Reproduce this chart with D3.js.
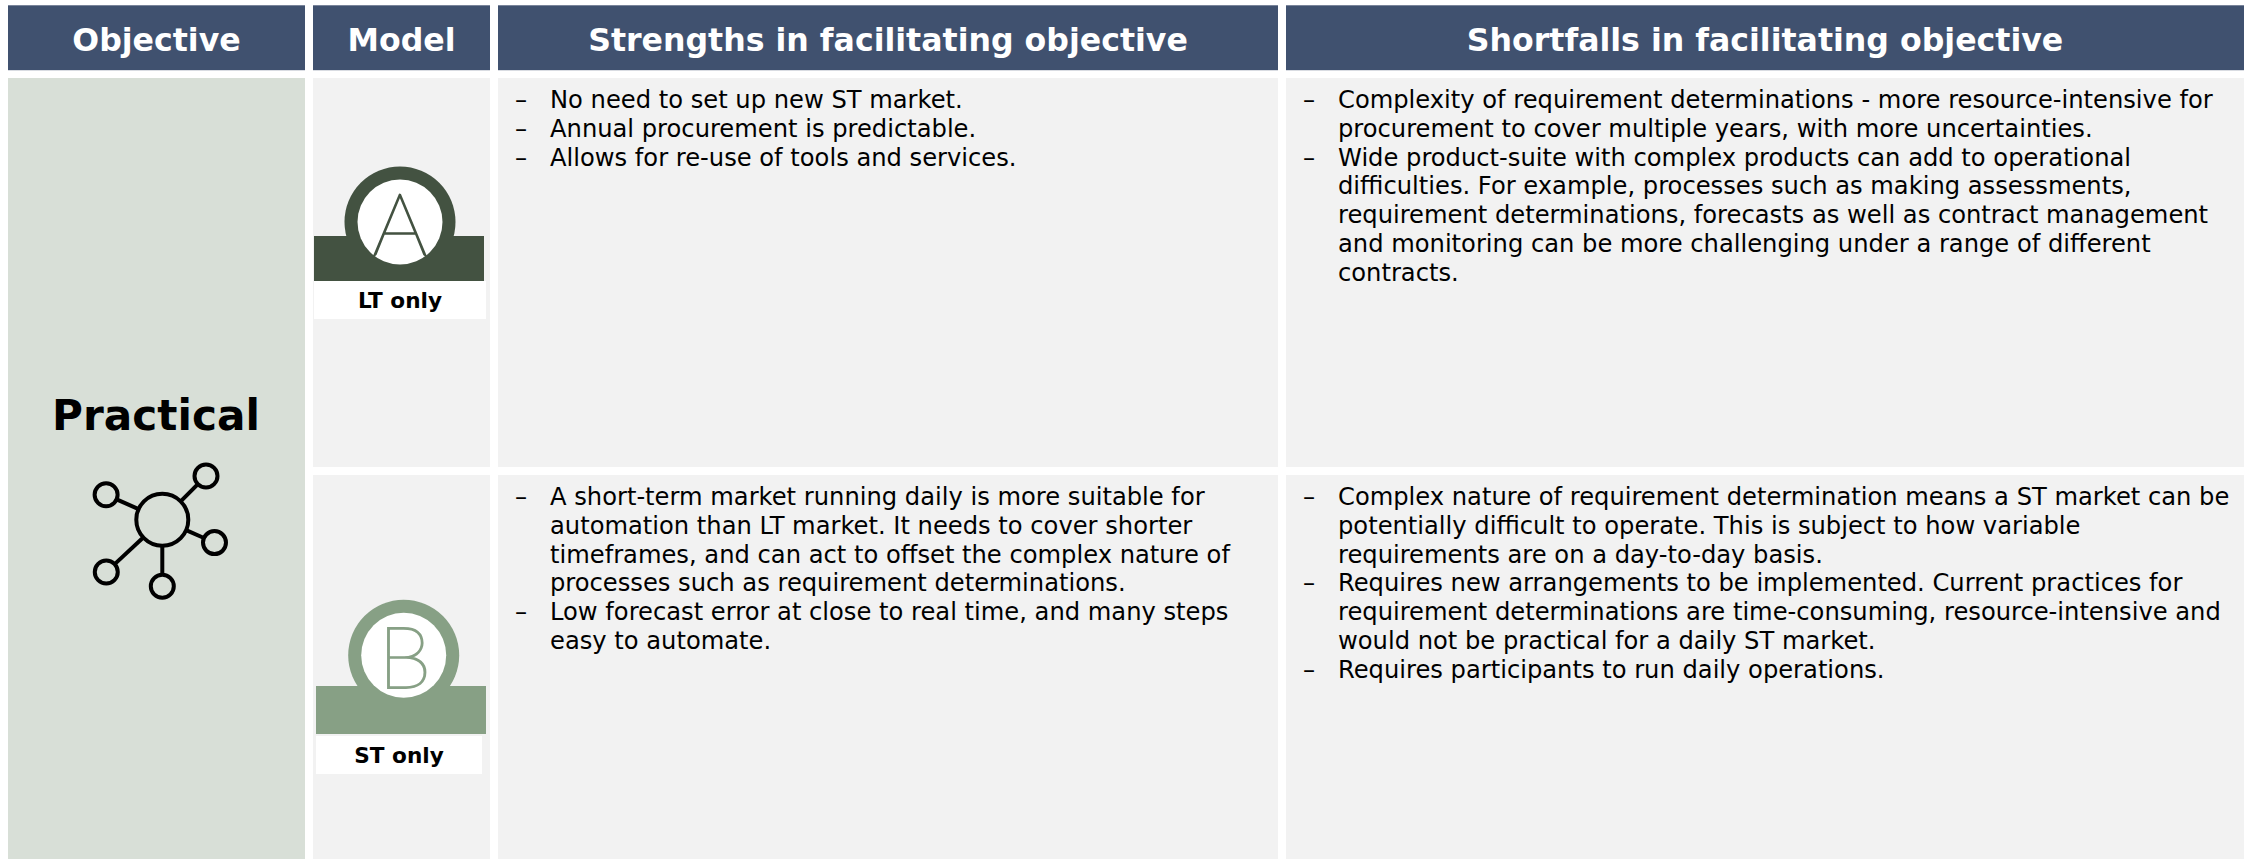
<!DOCTYPE html>
<html>
<head>
<meta charset="utf-8">
<script src="https://cdn.jsdelivr.net/npm/d3@7"></script>
<style>
  html, body { margin: 0; padding: 0; background: #fff; }
  svg { display: block; }
  text { font-family: "DejaVu Sans", sans-serif; }
</style>
</head>
<body>
<svg id="chart" width="2250" height="859"></svg>
<script>
var columns = ['Objective', 'Model', 'Strengths in facilitating objective', 'Shortfalls in facilitating objective'];
var columnEdges = [8, 313, 498, 1286, 2244];
var gap = 8;

var rowNames = ['LT only', 'ST only'];
var rowEdges = [78, 475, 867];

var objective = 'Practical';

var modelLetters = ['A', 'B'];
var modelColors = ['#435241', '#87A085'];

var strengths = [
  [
    ['No need to set up new ST market.'],
    ['Annual procurement is predictable.'],
    ['Allows for re-use of tools and services.']
  ],
  [
    ['A short-term market running daily is more suitable for',
     'automation than LT market. It needs to cover shorter',
     'timeframes, and can act to offset the complex nature of',
     'processes such as requirement determinations.'],
    ['Low forecast error at close to real time, and many steps',
     'easy to automate.']
  ]
];

var shortfalls = [
  [
    ['Complexity of requirement determinations - more resource-intensive for',
     'procurement to cover multiple years, with more uncertainties.'],
    ['Wide product-suite with complex products can add to operational',
     'difficulties. For example, processes such as making assessments,',
     'requirement determinations, forecasts as well as contract management',
     'and monitoring can be more challenging under a range of different',
     'contracts.']
  ],
  [
    ['Complex nature of requirement determination means a ST market can be',
     'potentially difficult to operate. This is subject to how variable',
     'requirements are on a day-to-day basis.'],
    ['Requires new arrangements to be implemented. Current practices for',
     'requirement determinations are time-consuming, resource-intensive and',
     'would not be practical for a daily ST market.'],
    ['Requires participants to run daily operations.']
  ]
];

// hub and spoke icon, angle in degrees clockwise from east
var spokeAngles = [-45, -156, 23.7, 137, 90];
var spokeLengths = [61.8, 61.5, 57, 76.6, 66.6];

var HEADER_COLOR = '#40516F';
var OBJECTIVE_COLOR = '#D8DFD7';
var CELL_COLOR = '#F2F2F2';
var BODY_SIZE = 24.2;
var LINE_HEIGHT = 28.8;
var HUB_RADIUS = 26;
var LEAF_RADIUS = 11.5;

var svg = d3.select('#chart');

var x = d3.scaleOrdinal().domain(columns).range(columnEdges);
var y = d3.scaleOrdinal().domain(rowNames).range(rowEdges);

var colWidth = function(i) { return columnEdges[i + 1] - columnEdges[i] - (i < 3 ? gap : 0); };

// header row
svg.selectAll('.head')
  .data(columns)
  .enter().append('rect')
  .attr('class', 'head')
  .attr('x', function(d) { return x(d); })
  .attr('y', 5.3)
  .attr('width', function(d, i) { return colWidth(i); })
  .attr('height', 64.9)
  .attr('fill', HEADER_COLOR);

svg.selectAll('.headLabel')
  .data(columns)
  .enter().append('text')
  .attr('class', 'headLabel')
  .attr('x', function(d, i) { return x(d) + colWidth(i) / 2; })
  .attr('y', 50.5)
  .attr('text-anchor', 'middle')
  .attr('fill', '#fff')
  .attr('font-size', 31.6)
  .attr('font-weight', 'bold')
  .text(function(d) { return d; });

// objective cell
svg.append('rect')
  .attr('x', x(columns[0]))
  .attr('y', rowEdges[0])
  .attr('width', colWidth(0))
  .attr('height', 859 - rowEdges[0])
  .attr('fill', OBJECTIVE_COLOR);

svg.append('text')
  .attr('x', 156)
  .attr('y', 430)
  .attr('text-anchor', 'middle')
  .attr('font-size', 42.2)
  .attr('font-weight', 'bold')
  .attr('fill', '#000')
  .text(objective);

// body cells
columns.slice(1).forEach(function(col, c) {
  rowNames.forEach(function(row, r) {
    svg.append('rect')
      .attr('x', x(col))
      .attr('y', y(row))
      .attr('width', colWidth(c + 1))
      .attr('height', rowEdges[r + 1] - rowEdges[r] - gap)
      .attr('fill', CELL_COLOR);
  });
});

// network icon
var hub = svg.append('g')
  .attr('transform', 'translate(162.3,519.7)')
  .attr('fill', 'none')
  .attr('stroke', '#000')
  .attr('stroke-width', 4);

var spokes = spokeAngles.map(function(a, i) {
  var t = a * Math.PI / 180;
  return { cos: Math.cos(t), sin: Math.sin(t), len: spokeLengths[i] };
});

hub.append('circle').attr('r', HUB_RADIUS);

hub.selectAll('line')
  .data(spokes)
  .enter().append('line')
  .attr('x1', function(d) { return d.cos * HUB_RADIUS; })
  .attr('y1', function(d) { return d.sin * HUB_RADIUS; })
  .attr('x2', function(d) { return d.cos * (d.len - LEAF_RADIUS); })
  .attr('y2', function(d) { return d.sin * (d.len - LEAF_RADIUS); });

hub.selectAll('.leaf')
  .data(spokes)
  .enter().append('circle')
  .attr('class', 'leaf')
  .attr('cx', function(d) { return d.cos * d.len; })
  .attr('cy', function(d) { return d.sin * d.len; })
  .attr('r', LEAF_RADIUS);

// model badges
var badges = [
  { cx: 400, cy: 222, bandX: 314, bandY: 236, bandH: 45, labelX: 314, labelW: 172, labelY: 281, labelH: 38, textX: 400, textY: 308 },
  { cx: 403.7, cy: 655.3, bandX: 316, bandY: 686, bandH: 48, labelX: 316, labelW: 166, labelY: 736, labelH: 38, textX: 399, textY: 763 }
];

badges.forEach(function(b, i) {
  var g = svg.append('g');
  g.append('circle').attr('cx', b.cx).attr('cy', b.cy).attr('r', 55.5).attr('fill', modelColors[i]);
  g.append('rect').attr('x', b.bandX).attr('y', b.bandY).attr('width', 170).attr('height', b.bandH).attr('fill', modelColors[i]);
  g.append('circle').attr('cx', b.cx).attr('cy', b.cy).attr('r', 42.5).attr('fill', '#fff');
  g.append('text')
    .attr('x', b.cx + (i ? 1 : 0))
    .attr('y', b.cy + 33)
    .attr('text-anchor', 'middle')
    .attr('font-size', 86)
    .attr('font-weight', 100)
    .style('font-family', 'Lato')
    .attr('fill', modelColors[i])
    .attr('stroke', modelColors[i])
    .attr('stroke-width', 1.8)
    .text(modelLetters[i]);
  g.append('rect').attr('x', b.labelX).attr('y', b.labelY).attr('width', b.labelW).attr('height', b.labelH).attr('fill', '#fff');
  g.append('text')
    .attr('x', b.textX)
    .attr('y', b.textY)
    .attr('text-anchor', 'middle')
    .attr('font-size', 21.6)
    .attr('font-weight', 'bold')
    .attr('fill', '#000')
    .text(rowNames[i]);
});

// bullet text
var drawBullets = function(items, col, firstBaseline) {
  var left = x(col);
  var n = 0;
  items.forEach(function(item) {
    item.forEach(function(line, j) {
      var base = firstBaseline + n * LINE_HEIGHT;
      if (j === 0) {
        svg.append('text')
          .attr('x', left + 17)
          .attr('y', base)
          .attr('font-size', BODY_SIZE)
          .attr('fill', '#000')
          .text('–');
      }
      svg.append('text')
        .attr('x', left + 52)
        .attr('y', base)
        .attr('font-size', BODY_SIZE)
        .attr('fill', '#000')
        .text(line);
      n++;
    });
  });
};

var firstBaselines = [108, 505];
firstBaselines.forEach(function(base, r) {
  drawBullets(strengths[r], columns[2], base);
  drawBullets(shortfalls[r], columns[3], base);
});
</script>
</body>
</html>
